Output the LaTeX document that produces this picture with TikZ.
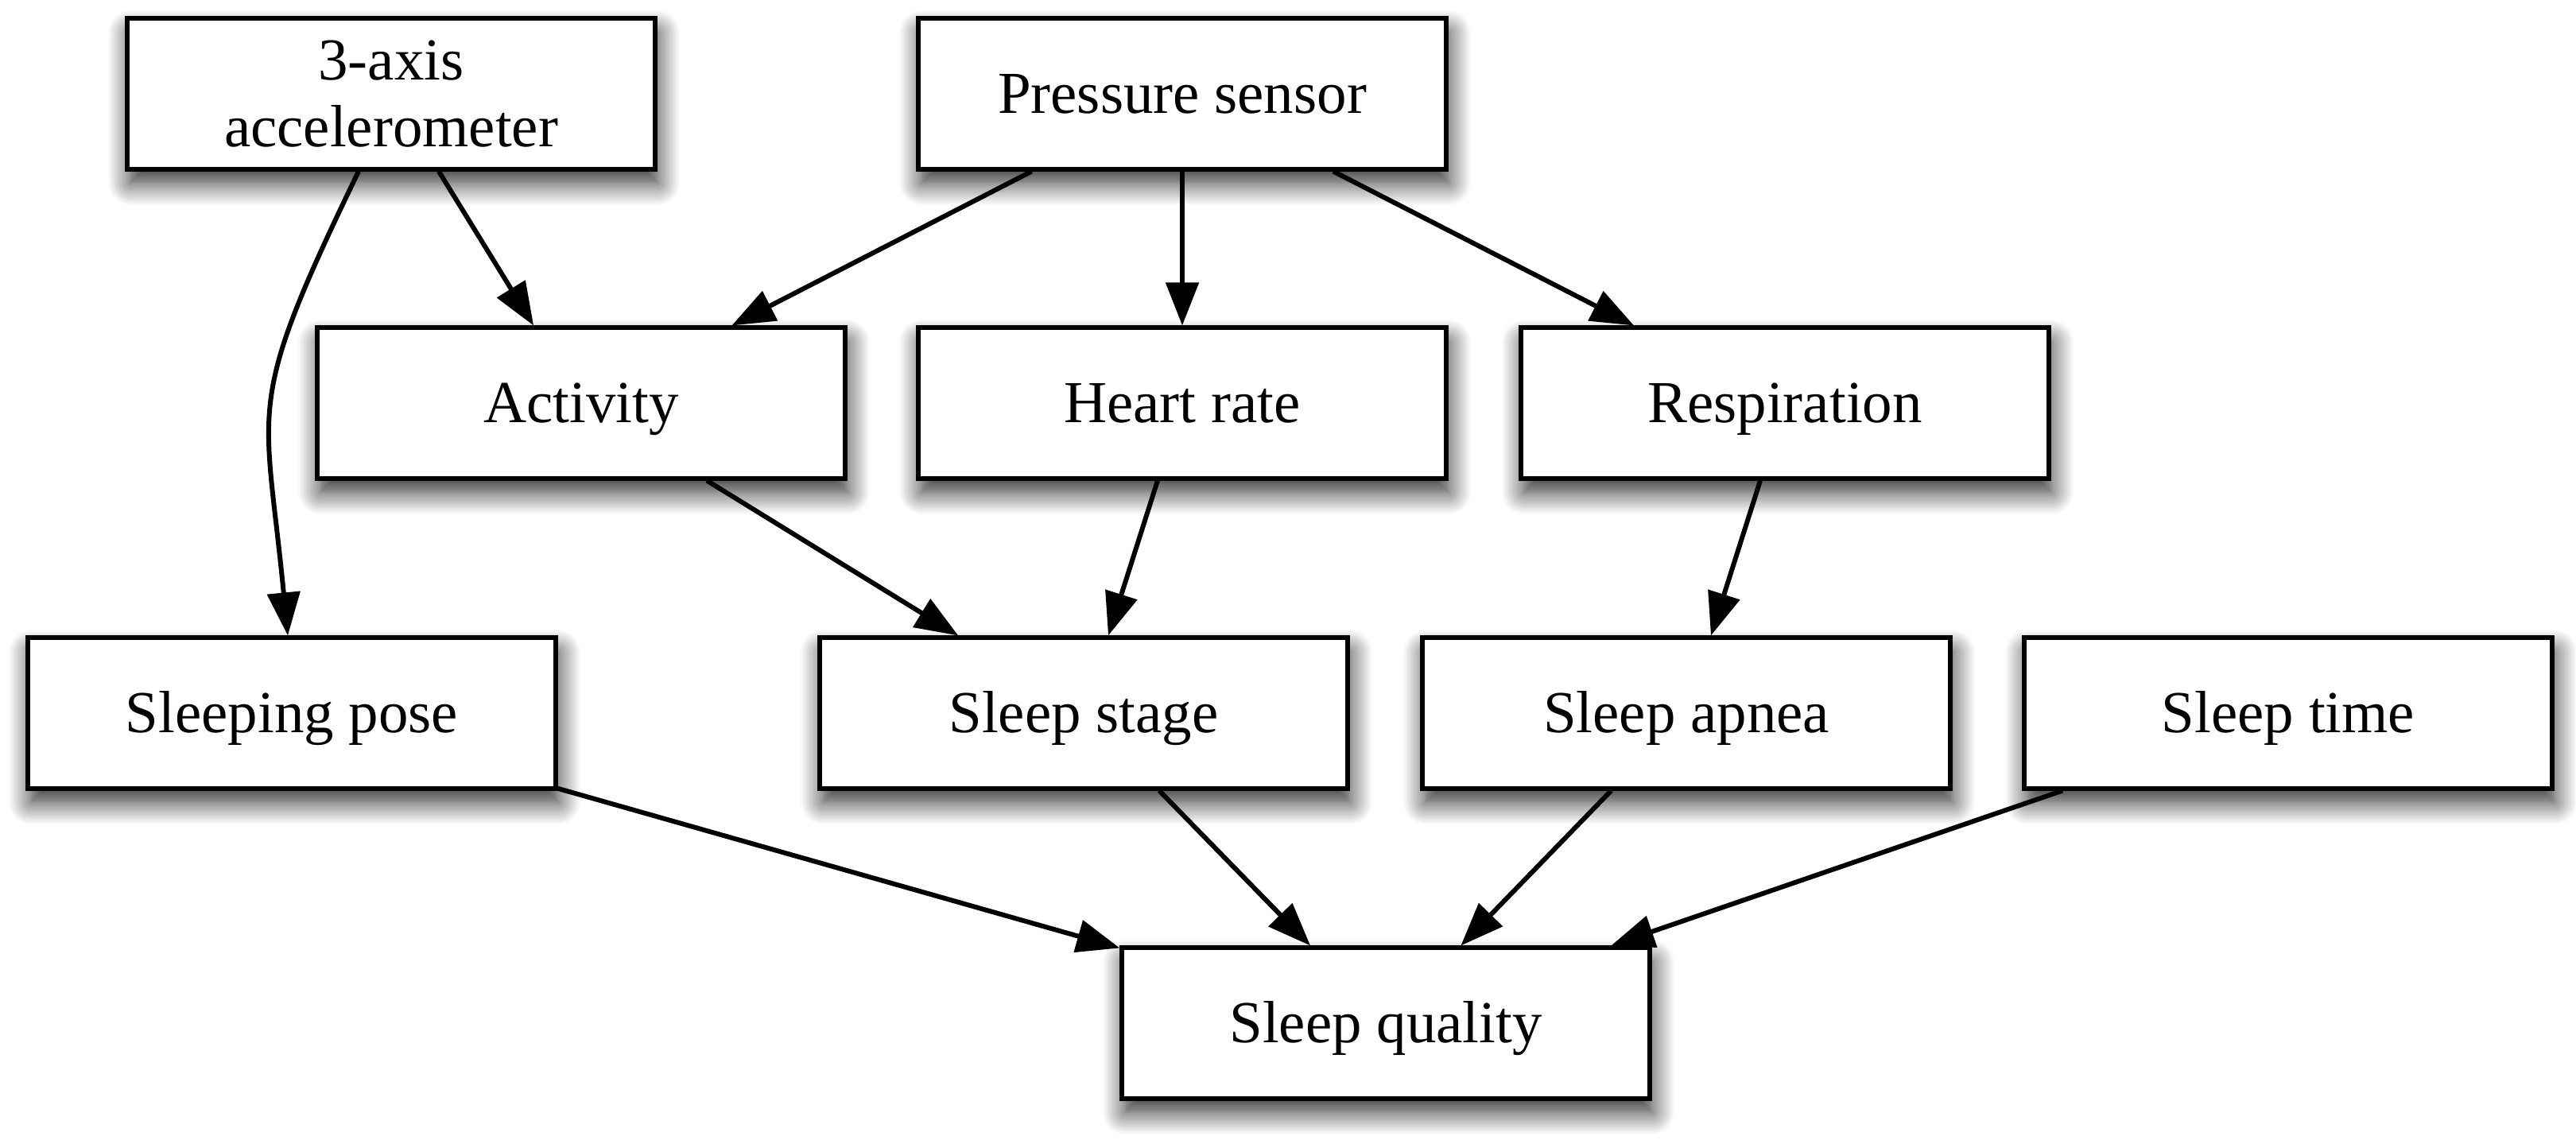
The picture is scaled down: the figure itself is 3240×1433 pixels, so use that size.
\documentclass[tikz,border=0pt]{standalone}
\usepackage{fontspec}
\setmainfont{Liberation Serif}
\usetikzlibrary{arrows.meta,shadows.blur,calc}
\begin{document}
\begin{tikzpicture}[x=0.01cm,y=-0.01cm,
  basebox/.style={draw, line width=1.7pt, fill=white, minimum width=6.63cm,
    minimum height=1.89cm, inner sep=0pt,
    font=\fontsize{21.3pt}{23.9pt}\selectfont,
    blur shadow={shadow xshift=1pt, shadow yshift=-5pt,
      shadow blur radius=8pt, shadow blur steps=14, shadow opacity=85}},
  onebox/.style={basebox, text height=19.2pt, text depth=5.1pt},
  twobox/.style={basebox, align=center},
  edge/.style={line width=1.7pt, -{Triangle[length=15.4pt,width=11.6pt]}}]
\useasboundingbox (0,0) rectangle (3240,1433);
\node[twobox] (acc) at (492,118) {3-axis\\accelerometer};
\node[onebox] (pres) at (1487,118) {Pressure sensor};
\node[onebox] (act) at (731,507) {Activity};
\node[onebox] (hr) at (1487,507) {Heart rate};
\node[onebox] (resp) at (2245,507) {Respiration};
\node[onebox] (pose) at (367,897) {Sleeping pose};
\node[onebox] (stage) at (1363,897) {Sleep stage};
\node[onebox] (apnea) at (2121,897) {Sleep apnea};
\node[onebox] (time) at (2878,897) {Sleep time};
\node[onebox] (qual) at (1743,1287) {Sleep quality};
\draw[edge] (acc) -- (act);
\draw[edge] ($(acc.south)+(-41,0)$) .. controls +(-145,300) and +(-29,-298) .. ($(pose.north)+(-5,0)$);
\draw[edge] (pres) -- (act);
\draw[edge] (pres) -- (hr);
\draw[edge] (pres) -- (resp);
\draw[edge] (act) -- (stage);
\draw[edge] (hr) -- (stage);
\draw[edge] (resp) -- (apnea);
\draw[edge] (pose) -- (qual);
\draw[edge] (stage) -- (qual);
\draw[edge] (apnea) -- (qual);
\draw[edge] (time) -- (qual);
\end{tikzpicture}
\end{document}
